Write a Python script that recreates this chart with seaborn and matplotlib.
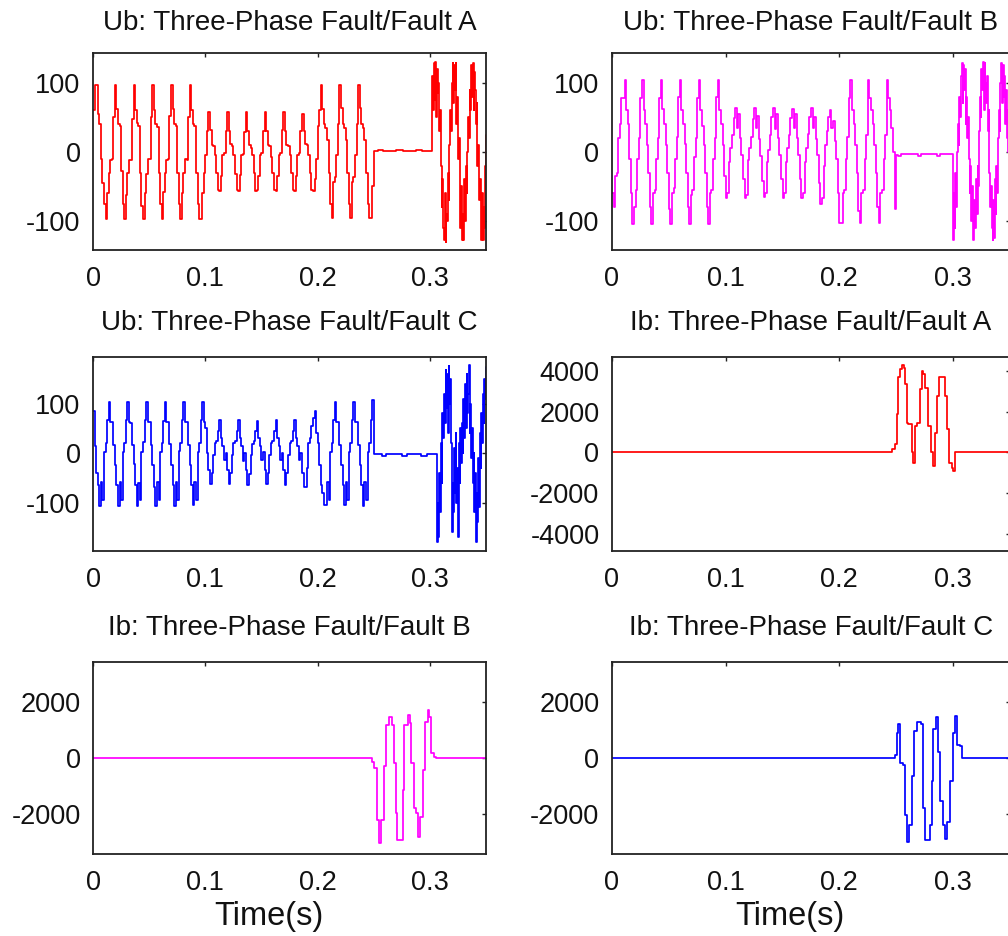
import numpy as np
import matplotlib
matplotlib.use('Agg')
import matplotlib.pyplot as plt
import seaborn as sns

# Sampled bus voltages before reclosing (one row = one 60 Hz cycle, 12 samples)
dt = 1 / 720
# After reclosing (t >= 0.3 s) the record is sampled twice as fast
dt_fine = dt / 2
t_reclose = 0.3

ub_a = [
    60, 97, 97, 55, 40, -10, -45, -75, -97, -60, -30, -12,
    -10, 50, 97, 62, 40, 38, -28, -75, -97, -62, -30, -12,
    -12, 48, 97, 60, 42, 38, -30, -78, -97, -60, -32, -10,
    -10, 50, 97, 60, 40, 36, -30, -75, -97, -58, -30, -12,
    -10, 52, 97, 62, 40, 38, -30, -76, -97, -60, -30, -10,
    -12, 50, 97, 60, 40, 38, -30, -75, -97, -97, -60, -30,
    -5, 30, 57, 32, 10, 8, -5, -30, -55, -57, -35, -5,
    -2, 30, 57, 30, 12, 8, -5, -32, -55, -57, -33, -5,
    -3, 28, 57, 30, 10, 6, -5, -30, -57, -55, -35, -5,
    -2, 30, 57, 30, 10, 8, -8, -30, -55, -57, -35, -4,
    -2, 32, 57, 30, 10, 8, -5, -30, -55, -57, -35, -5,
    -2, 30, 55, 30, 12, 10, -5, -30, -55, -57, -40, -10,
    37, 60, 97, 62, 40, 35, 17, -30, -75, -96, -43, -36,
    -5, 40, 97, 63, 40, 35, 17, -30, -75, -96, -43, -36,
    -5, 40, 97, 63, 40, 35, 17, -30, -75, -96, -96, -50,
    1, 1, 1, 3, 3, 3, 1, 1, 1, 1, 1, 1,
    1, 1, 3, 3, 3, 3, 3, 1, 1, 1, 1, 1,
    1, 1, 1, 3, 3, 3, 3, 1, 1, 1, 1, 1,
]
ub_a_reclose = [
    1, 1, 1,
    110, 60, 128, 75, 130, 50, 120, 85, 100, 30, 60,
    -20, -80, -40, -110, -128, -60, -130, -90, -100, -30,
    -70, 10, 60, 30, 100, 128, 70, 125, 90, 128, 40, 80,
    -10, 20, -60, -110, -50, -128, -90, -128, -40, -100, -20, -60,
    0, 50, 20, 90, 60, 125, 80, 128, 60, 115, 90, 40,
    70, -20, 10, -70, -40, -110, -128, -60, -128, -80, -110, -20,
    25,
]

ub_b = [
    -60, -80, -35, -30, 20, 40, 78, 78, 104, 60, 40, -10,
    -60, -105, -80, -55, -10, 20, 78, 104, 60, 40, 10, -30,
    -80, -105, -60, -55, -10, 20, 78, 104, 62, 40, 10, -30,
    -82, -105, -60, -52, -10, 22, 80, 104, 60, 40, 12, -30,
    -80, -105, -62, -55, -8, 20, 78, 104, 60, 38, 10, -30,
    -80, -105, -60, -55, -10, 20, 80, 104, 60, 40, 10, -35,
    -67, -60, -14, 5, 25, 49, 63, 35, 55, 20, -4, -40,
    -67, -62, -12, 5, 22, 48, 63, 35, 52, 18, -6, -42,
    -66, -60, -14, 3, 25, 50, 63, 33, 55, 20, -4, -40,
    -67, -60, -15, 5, 25, 49, 62, 35, 55, 20, -5, -40,
    -67, -60, -14, 5, 26, 50, 63, 35, 50, 18, -5, -45,
    -75, -67, -20, 10, 30, 51, 60, 35, 45, 15, -10, -60,
    -103, -103, -60, -55, -10, 22, 78, 104, 60, 40, 10, -30,
    -85, -103, -60, -55, -10, 25, 104, 78, 60, 40, 10, -30,
    -80, -103, -60, -55, -10, 25, 104, 78, 60, 35, 0, -82,
    -5, -6, -6, -3, -3, -3, -3, -3, -3, -3, -3, -3,
    -3, -3, -6, -6, -3, -3, -3, -3, -3, -3, -3, -3,
    -3, -3, -6, -6, -3, -3, -3, -3, -3, -3, -3, -3,
]
ub_b_reclose = [
    -127, -60, -110, -30, -80, 0,
    40, 10, 80, 50, 110, 128, 70, 125, 90, 120, 40, 80, 20, 50, -10,
    -60, -20, -100, -50, -128, -128, -70, -110, -40, -90, -20, -50,
    30, 80, 50, 120, 90, 130, 60, 128, 100, 70, 110, 30, 60,
    -30, -80, -50, -110, -128, -70, -125, -40, -90, -20, -60,
    20, 60, 30, 100, 128, 70, 125, 80, 110, 40, 90, 20, 60, 0, 40,
    -20,
]

ub_c = [
    85, 15, -40, -65, -108, -58, -95, 3, 20, 67, 104, 63,
    63, 16, -24, -65, -108, -58, -95, 3, 20, 67, 104, 63,
    60, 16, -22, -65, -108, -60, -95, 3, 22, 67, 104, 63,
    63, 16, -24, -68, -108, -58, -95, 3, 20, 65, 104, 63,
    63, 18, -24, -65, -108, -58, -95, 5, 20, 67, 104, 63,
    63, 16, -24, -65, -106, -58, -95, 3, 20, 67, 104, 63,
    50, 0, -35, -62, -40, -5, 20, 25, 45, 67, 30, 15,
    -15, 0, -35, -62, -40, -5, 20, 25, 45, 67, 30, 15,
    -17, 0, -35, -65, -42, -5, 18, 25, 45, 65, 30, 15,
    -15, 2, -35, -62, -40, -5, 20, 25, 45, 67, 30, 15,
    -15, 0, -35, -64, -40, -5, 20, 25, 45, 67, 30, 15,
    -15, 0, -40, -68, -68, -30, 20, 30, 55, 70, 84, 40,
    20, -24, -65, -80, -105, -105, -58, -95, 3, 20, 67, 104,
    63, 63, 16, -24, -65, -105, -58, -95, 3, 20, 67, 104,
    63, 63, 16, -24, -65, -108, -58, -95, 3, 20, 67, 107,
    -1, -1, -1, -1, -1, -6, -6, -6, -1, -1, -1, -1,
    -1, -1, -1, -1, -1, -1, -6, -6, -6, -1, -1, -1,
    -1, -1, -1, -1, -1, -1, -6, -6, -6, -6, -1, -1,
]
ub_c_reclose = [
    -1, -1, -1, -1, -1, -1, -1, -1, -1,
    -179, -100, -170, -40, -120, 20, -60, 80, 30, 120, 60,
    168, 90, 160, 40, 175, 100, 150, 20, -159,
    -60, -120, 10, -80, 40, -100, -30, -170, 20, -60, 50, -20,
    60, 0, 110, 30, 140, 50, 160, 80, 120, 178, 40, 100,
    -10, 50, -60, 0, -120, -40, -179, -80, -140, -10, -110, 40,
    -30, 80, 20, 120, 60, 150, 110,
    174,
]

# Fault currents: (time, value) break points of the stepped trace
ib_a_t = [0, 0.246, 0.2485, 0.2504, 0.2518, 0.2533, 0.2553, 0.2565, 0.2578, 0.2593,
          0.2606, 0.2636, 0.2650, 0.2665, 0.2680, 0.2709, 0.2724, 0.2738, 0.2752, 0.2762,
          0.2782, 0.2803, 0.2820, 0.2841, 0.2855, 0.2879, 0.2929, 0.2943, 0.2967, 0.2988,
          0.3002, 0.3017, 0.35]
ib_a_v = [0, 150, 400, 1880, 3690, 4100, 4300, 4150, 3360, 1470,
          1380, 0, -500, 1300, 1470, 3110, 4020, 3850, 3190, 3190,
          1300, 0, -670, 970, 2780, 3690, 2780, 1140, -510, -760,
          -920, 0, 0]

ib_b_t = [0, 0.2488, 0.2503, 0.2527, 0.2548, 0.2568, 0.2592, 0.2613, 0.2637, 0.2658,
          0.2682, 0.2696, 0.2711, 0.2756, 0.2771, 0.2801, 0.2824, 0.2836, 0.2860, 0.2875,
          0.2890, 0.2914, 0.2935, 0.2955, 0.2979, 0.2994, 0.3009, 0.3039, 0.3054, 0.35]
ib_b_v = [0, -130, -370, -2190, -3020, -2200, -300, 1170, 1460, 1170,
          -190, -1960, -2900, -1130, 1170, 1520, 1230, -190, -1780, -1950,
          -2790, -2080, -420, 1290, 1700, 1460, 165, 50, 0, 0]

ib_c_t = [0, 0.2489, 0.2504, 0.2518, 0.2533, 0.2562, 0.2577, 0.2597, 0.2615, 0.2641,
          0.2659, 0.2680, 0.2715, 0.2732, 0.2753, 0.2797, 0.2811, 0.2826, 0.2850, 0.2870,
          0.2885, 0.2908, 0.2929, 0.2949, 0.2973, 0.2996, 0.3017, 0.3037, 0.3061, 0.3075,
          0.35]
ib_c_v = [0, 110, 900, 1200, -190, -250, -2010, -2980, -2380, -620,
          960, 1260, 1200, -1770, -2920, -2380, -800, 1020, 1440, 230,
          -1530, -2380, -2860, -2250, -800, 900, 1500, 470, 410, 0,
          0]

titles = ['Ub: Three-Phase Fault/Fault A', 'Ub: Three-Phase Fault/Fault B',
          'Ub: Three-Phase Fault/Fault C', 'Ib: Three-Phase Fault/Fault A',
          'Ib: Three-Phase Fault/Fault B', 'Ib: Three-Phase Fault/Fault C']
x_ticks = [0, 0.1, 0.2, 0.3]
x_tick_labels = ['0', '0.1', '0.2', '0.3']
u_ticks = [-100, 0, 100]
u_tick_labels = ['-100', '0', '100']
ia_ticks = [-4000, -2000, 0, 2000, 4000]
ia_tick_labels = ['-4000', '-2000', '0', '2000', '4000']
ibc_ticks = [-2000, 0, 2000]
ibc_tick_labels = ['-2000', '0', '2000']

sns.set_style('white')
plt.rcParams['font.family'] = ['Liberation Sans', 'DejaVu Sans']
plt.rcParams['axes.unicode_minus'] = False
text_color = '#111111'


def voltage_trace(pre, post):
    # time axis: regular samples before reclosing, finer samples after it
    t = np.concatenate([np.arange(len(pre)) * dt,
                        t_reclose + np.arange(len(post)) * dt_fine])
    return t, np.array(pre + post, dtype=float)


ta, va = voltage_trace(ub_a, ub_a_reclose)
tb, vb = voltage_trace(ub_b, ub_b_reclose)
tc, vc = voltage_trace(ub_c, ub_c_reclose)

panels = [
    # title, x, y, colour, ylim, yticks, labels, [left, bottom, w, h], title pad, xlabel
    (titles[0], ta, va, '#ff0000', (-142, 143), u_ticks, u_tick_labels,
     [0.0923, 0.7329, 0.3899, 0.2105], 16.5, False),
    (titles[1], tb, vb, '#ff00ff', (-142, 143), u_ticks, u_tick_labels,
     [0.6071, 0.7329, 0.3948, 0.2105], 16.5, False),
    (titles[2], tc, vc, '#0000ff', (-198, 194), u_ticks, u_tick_labels,
     [0.0923, 0.4113, 0.3899, 0.2073], 19.5, False),
    (titles[3], ib_a_t, ib_a_v, '#ff0000', (-4840, 4690), ia_ticks, ia_tick_labels,
     [0.6071, 0.4113, 0.3948, 0.2073], 19.5, False),
    (titles[4], ib_b_t, ib_b_v, '#ff00ff', (-3400, 3400), ibc_ticks, ibc_tick_labels,
     [0.0923, 0.0876, 0.3899, 0.2051], 19.5, True),
    (titles[5], ib_c_t, ib_c_v, '#0000ff', (-3400, 3400), ibc_ticks, ibc_tick_labels,
     [0.6071, 0.0876, 0.3948, 0.2051], 19.5, True),
]

fig = plt.figure(figsize=(10.08, 9.36), dpi=100)
for title, x, y, color, ylim, yt, yl, rect, pad, has_xlabel in panels:
    ax = fig.add_axes(rect)
    sns.lineplot(x=np.asarray(x), y=np.asarray(y), ax=ax, color=color, linewidth=1.25,
                 drawstyle='steps-post', estimator=None, sort=False)
    ax.set_xlim(0, 0.35)
    ax.set_ylim(*ylim)
    ax.set_xticks(x_ticks)
    ax.set_xticklabels(x_tick_labels)
    ax.set_yticks(yt)
    ax.set_yticklabels(yl)
    ax.tick_params(direction='in', top=True, right=True, length=3, width=1,
                   labelsize=19.5, colors='#222222', labelcolor=text_color)
    ax.tick_params(axis='x', pad=11.5)
    ax.tick_params(axis='y', pad=9)
    for sp in ax.spines.values():
        sp.set_linewidth(1.3)
        sp.set_color('#222222')
    ax.set_title(title, fontsize=20, pad=pad, color=text_color)
    ax.set_ylabel('')
    if has_xlabel:
        ax.set_xlabel('Time(s)', fontsize=23.5, color=text_color)
        ax.xaxis.set_label_coords(0.447, -0.245)
    else:
        ax.set_xlabel('')

fig.savefig('out.png', dpi=100)
